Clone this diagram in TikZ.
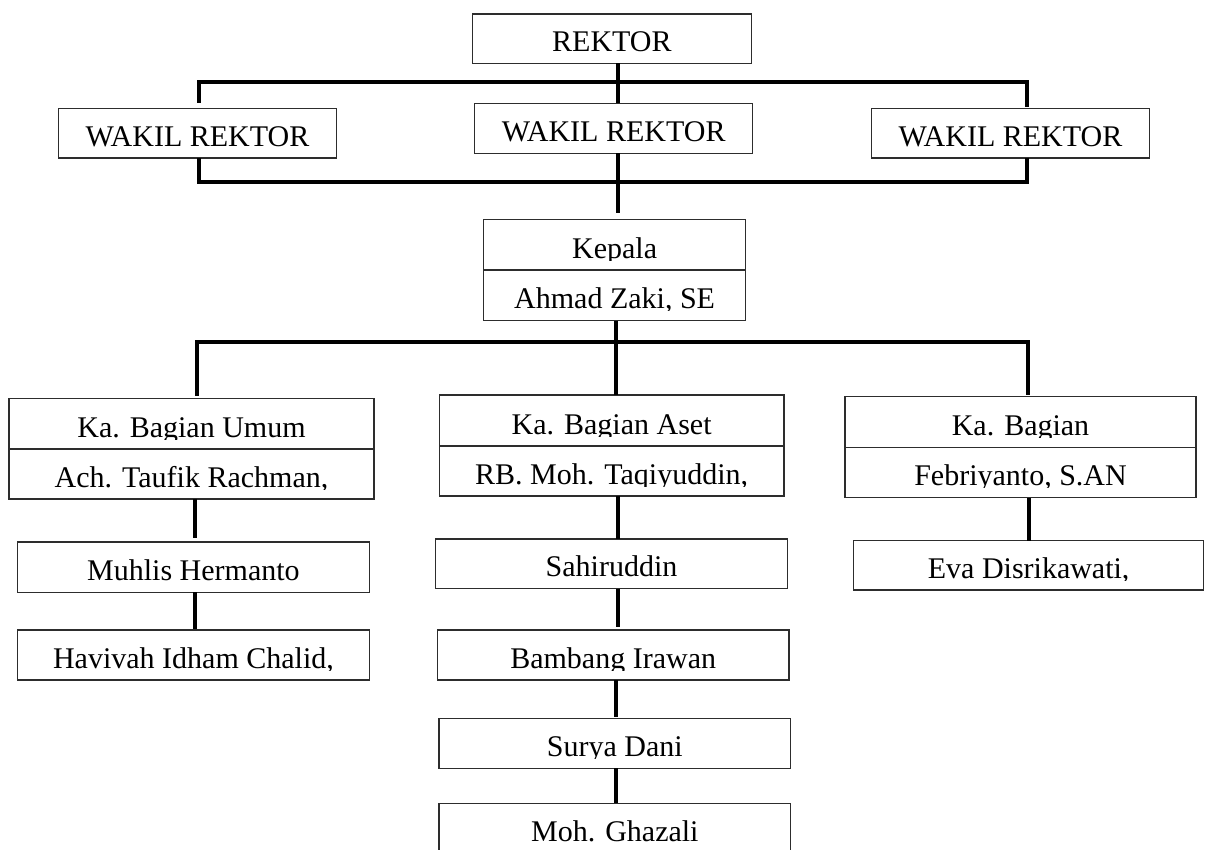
\documentclass[tikz,border=0pt]{standalone}
\usepackage{fontspec}
\setmainfont{Liberation Serif}
\newcommand\lbfont{\fontsize{30}{36}\selectfont}
\definecolor{boxc}{RGB}{45,45,45}
\tikzset{
  obox/.style={draw=boxc, line width=1.2pt, rectangle, inner sep=0pt, outer sep=0pt},
  lbl/.style={path picture={
      \clip ([yshift=10pt]path picture bounding box.south west) rectangle (path picture bounding box.north east);
      \node[anchor=base, inner sep=0pt, font=\lbfont] at ([yshift=12pt]path picture bounding box.south) {#1};}},
  conn/.style={draw=black, line width=4pt, line join=miter}
}
\newcommand\ob[6]{\node[obox, minimum width=#4pt, minimum height=#5pt, lbl={#6}] (#1) at (#2,#3) {};}
\begin{document}
\begin{tikzpicture}[x=1pt,y=-1pt]
\useasboundingbox (0,0) rectangle (1205,849);
\clip (0,0) rectangle (1205,849);
\fill[white] (0,0) rectangle (1205,849);

% boxes
\ob{rek}{611.9}{38.65}{278.6}{49.3}{REKTOR}
\ob{wrL}{197.5}{133.15}{278.6}{49.7}{WAKIL REKTOR}
\ob{wrM}{613.7}{128.3}{278.2}{50}{WAKIL REKTOR}
\ob{wrR}{1010.5}{133.15}{278.6}{49.7}{WAKIL REKTOR}
\ob{kepT}{614.6}{244.65}{262.4}{50.7}{Kepala}
\ob{kepB}{614.6}{295.35}{262.4}{50.7}{Ahmad Zaki, SE}
\ob{umT}{191.5}{423.65}{365}{50.7}{Ka. Bagian Umum}
\ob{umB}{191.5}{474}{365}{50}{Ach. Taufik Rachman,}
\ob{muh}{193.45}{567.15}{351.7}{50.3}{Muhlis Hermanto}
\ob{hav}{193.45}{655}{351.7}{50}{Havivah Idham Chalid,}
\ob{asT}{611.65}{420.5}{344.7}{51}{Ka. Bagian Aset}
\ob{asB}{611.65}{471}{344.7}{50}{RB. Moh. Taqiyuddin,}
\ob{sah}{611.5}{563.85}{352}{49.7}{Sahiruddin}
\ob{bam}{613.2}{655}{351.6}{50}{Bambang Irawan}
\ob{sur}{614.85}{743.3}{351.7}{50}{Surya Dani}
\ob{moh}{614.85}{828.3}{351.7}{50}{Moh. Ghazali}
\ob{kbT}{1020.5}{422}{351}{50.6}{Ka. Bagian}
\ob{kbB}{1020.5}{472.5}{351}{50.4}{Febriyanto, S.AN}
\ob{eva}{1028.65}{565.35}{350.3}{49.3}{Eva Disrikawati,}

% helper coordinates
\coordinate (cx) at (618,0);
\coordinate (xL) at (198.6,0);
\coordinate (bt) at (1027.1,81.7);
\coordinate (bb) at (1027.1,181.7);
\coordinate (cx2) at (616,0);
\coordinate (xl2) at (197.1,0);
\coordinate (lb) at (1028.2,342.3);
\coordinate (c1) at (195.2,0);
\coordinate (c2) at (617.7,0);
\coordinate (c3) at (616.3,0);
\coordinate (c4) at (1029,0);

% connectors, upper part
\draw[conn] (rek.south -| cx) -- (wrM.north -| cx);
\draw[conn, shorten <=5.6pt, shorten >=1.6pt] (wrL.north -| xL) |- (bt) -- (wrR.north -| bt);
\draw[conn] (wrL.south -| xL) |- (bb) -- (wrR.south -| bb);
\draw[conn, shorten >=6pt] (wrM.south -| cx) -- (kepT.north -| cx);

% connectors, lower part
\draw[conn] (kepB.south -| cx2) -- (asT.north -| cx2);
\draw[conn, shorten <=2.6pt, shorten >=1.7pt] (umT.north -| xl2) |- (lb) -- (kbT.north -| lb);
\draw[conn, shorten >=3.7pt] (umB.south -| c1) -- (muh.north -| c1);
\draw[conn, shorten >=1pt] (muh.south -| c1) -- (hav.north -| c1);
\draw[conn] (asB.south -| c2) -- (sah.north -| c2);
\draw[conn, shorten >=3pt] (sah.south -| c2) -- (bam.north -| c2);
\draw[conn, shorten >=1.5pt] (bam.south -| c3) -- (sur.north -| c3);
\draw[conn] (sur.south -| c3) -- (moh.north -| c3);
\draw[conn] (kbB.south -| c4) -- (eva.north -| c4);
\end{tikzpicture}
\end{document}
